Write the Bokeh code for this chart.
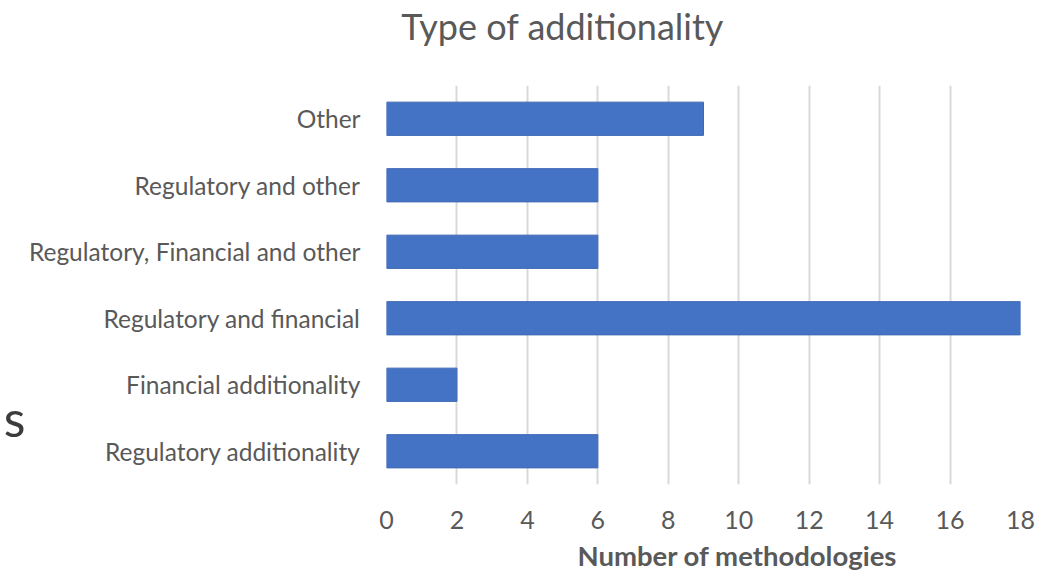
from bokeh.plotting import figure
from bokeh.models import FixedTicker, Title, CategoricalAxis, FactorRange, LinearAxis
from bokeh.embed import file_html
from bokeh.resources import INLINE

categories = ["Regulatory additionality", "Financial additionality", "Regulatory and financial",
              "Regulatory, Financial and other", "Regulatory and other", "Other"]
values = [6, 2, 18, 6, 6, 9]
x_ticks = [0, 2, 4, 6, 8, 10, 12, 14, 16, 18]
chart_title = "Type of additionality"
x_title = "Number of methodologies"
# partial letter cut off at the left edge of the reference screenshot,
# placed on the lowest of three slots of an extra left axis (others zero-width)
stray_slots = ["s", "\u200b", "\u200b\u200b"]

FONT = "Lato"
GREY = "#595959"

p = figure(width=1051, height=576, y_range=categories, x_range=(0, 18),
           output_backend="svg", toolbar_location=None,
           min_border_left=385, min_border_right=31, min_border_top=85, min_border_bottom=91)

p.hbar(y=categories, right=values, left=0, height=0.5, color="#4472C4", line_color="#3F69B5", line_width=1)

p.xaxis.ticker = FixedTicker(ticks=x_ticks)
p.xgrid.grid_line_color = "#D9D9D9"
p.xgrid.grid_line_width = 2
p.ygrid.grid_line_color = None
p.outline_line_color = None


def plain(ax):
    ax.axis_line_color = None
    ax.major_tick_line_color = None
    ax.minor_tick_line_color = None
    ax.major_tick_out = 0
    ax.major_tick_in = 0
    ax.minor_tick_out = 0
    ax.minor_tick_in = 0
    ax.major_label_text_font = FONT
    ax.major_label_text_color = GREY


plain(p.xaxis[0])
p.xaxis.major_label_text_font_size = "25px"
p.xaxis.major_label_standoff = 26
plain(p.yaxis[0])
p.yaxis.major_label_text_font_size = "24.5px"
p.yaxis.major_label_standoff = 26

# extra left axis carrying the stray letter
p.extra_y_ranges = {"stray": FactorRange(factors=stray_slots)}
sax = CategoricalAxis(y_range_name="stray")
plain(sax)
sax.major_label_standoff = 0
sax.major_label_text_font_size = "50px"
sax.major_label_text_color = "#3C3C3C"
p.add_layout(sax, "left")

# chart title as a single labelled tick on a top axis (at x = 5 of the value scale)
tax = LinearAxis(ticker=FixedTicker(ticks=[5], minor_ticks=[]), major_label_overrides={5: chart_title})
plain(tax)
tax.major_label_standoff = 38
tax.major_label_text_font_size = "36px"
p.add_layout(tax, "above")

p.add_layout(Title(text=x_title, align="left", offset=191, standoff=10,
                   text_font=FONT, text_font_size="27.5px", text_font_style="bold",
                   text_color=GREY), "below")

open("out.html", "w").write(file_html(p, INLINE))
